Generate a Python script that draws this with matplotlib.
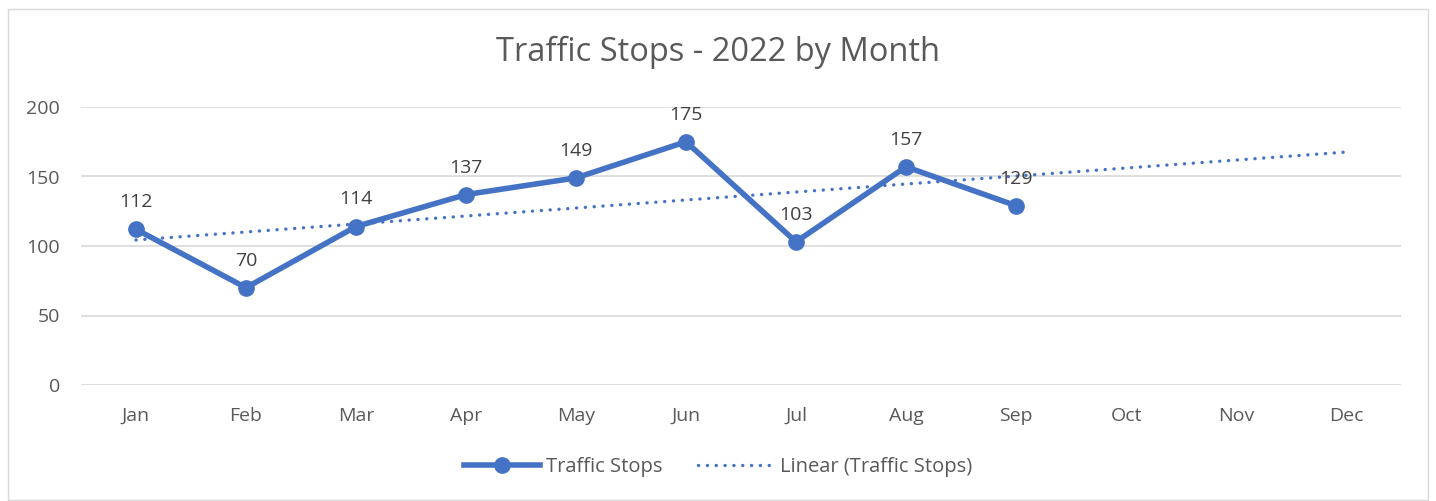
import matplotlib.pyplot as plt
import numpy as np
from matplotlib.patches import Rectangle

# Chart data.
months = ['Jan', 'Feb', 'Mar', 'Apr', 'May', 'Jun', 'Jul', 'Aug', 'Sep', 'Oct', 'Nov', 'Dec']
stops = [112, 70, 114, 137, 149, 175, 103, 157, 129]
y_ticks = [0, 50, 100, 150, 200]

blue = '#4472C4'
text_gray = '#595959'
grid_gray = '#D9D9D9'

plt.rcParams['font.family'] = ['Open Sans', 'DejaVu Sans']

fig = plt.figure(figsize=(14.36, 5.01), dpi=100)
ax = fig.add_axes([81 / 1436, 1 - 385 / 501, 1320 / 1436, 278 / 501])

x_all = np.arange(len(months))
x_data = np.arange(len(stops))

# Linear trendline fitted on the known months, extended to December.
slope, intercept = np.polyfit(x_data + 1, stops, 1)
trend = slope * (x_all + 1) + intercept

ax.plot(x_all, trend, color=blue, linewidth=2.4, linestyle=(0, (0.05, 2.6)),
        dash_capstyle='round', label='Linear (Traffic Stops)', zorder=3)
ax.plot(x_data, stops, color=blue, linewidth=4, marker='o', markersize=11,
        label='Traffic Stops', zorder=4)

for x, v in zip(x_data, stops):
    ax.annotate(str(v), (x, v), xytext=(0, 13), textcoords='offset points',
                ha='center', va='bottom', fontsize=14, color='#404040')

ax.set_xlim(-0.5, len(months) - 0.5)
ax.set_ylim(0, 200)
ax.set_xticks(x_all)
ax.set_xticklabels(months)
ax.set_yticks(y_ticks)
ax.tick_params(axis='both', length=0, labelsize=14, colors=text_gray)
ax.tick_params(axis='x', pad=16)
ax.tick_params(axis='y', pad=15)
ax.grid(axis='y', color=grid_gray, linewidth=1.2)
ax.set_axisbelow(True)
for s in ax.spines.values():
    s.set_visible(False)

fig.text(0.5, 1 - 52 / 501, 'Traffic Stops - 2022 by Month', ha='center', va='center',
         fontsize=23.5, color=text_gray)

handles, labels = ax.get_legend_handles_labels()
leg = fig.legend(handles[::-1], labels[::-1], loc='center', bbox_to_anchor=(0.5, 1 - 467 / 501),
                 ncol=2, frameon=False, fontsize=14.5, handlelength=3.8, columnspacing=1.8,
                 handletextpad=0.25)
for t in leg.get_texts():
    t.set_color(text_gray)

# Outer chart border.
fig.patches.append(Rectangle((8 / 1436, 0.002), 1420 / 1436, 1 - 10 / 501, transform=fig.transFigure,
                             fill=False, edgecolor='#D9D9D9', linewidth=1))

fig.savefig('out.png', dpi=100)
